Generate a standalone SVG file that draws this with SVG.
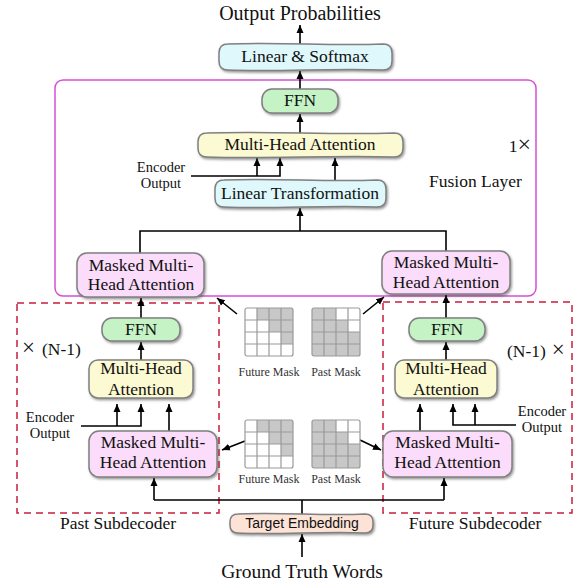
<svg xmlns="http://www.w3.org/2000/svg" xmlns:xlink="http://www.w3.org/1999/xlink" width="574" height="585" viewBox="0 0 574 585">
<defs>
<style>
text{font-family:"Liberation Serif","Times New Roman",serif;fill:#111;text-anchor:middle}
.t{font-size:17.5px}
.big{font-size:20px}
.sm{font-size:14.5px}
.mk{font-size:12px;fill:#333}
.box{stroke:#808080;stroke-width:1.5;filter:url(#sh)}
.cy{fill:#def8fc}
.ye{fill:#fcfad2}
.gr{fill:#c5f3c5}
.pk{fill:#fbdcfb}
.or{fill:#fde3d6}
.ln{fill:none;stroke:#000;stroke-width:1.6}
.ar{marker-end:url(#ah)}
.cell{fill:#c8c8c8}
.grid{fill:none;stroke:#9a9a9a;stroke-width:1.2}
</style>
<filter id="sh" x="-10%" y="-20%" width="125%" height="150%">
<feDropShadow dx="1.2" dy="1.6" stdDeviation="0.9" flood-color="#444" flood-opacity="0.55"/>
</filter>
<marker id="ah" viewBox="0 0 8 8" refX="8" refY="4" markerWidth="8" markerHeight="8" markerUnits="userSpaceOnUse" orient="auto">
<path d="M0,0.5 L8,4 L0,7.5 Z" fill="#000"/>
</marker>
<g id="fmask">
<rect x="0" y="0" width="48" height="48" fill="#fff"/>
<path class="cell" d="M12,0h36v36h-12v-12h-12v-12h-12Z"/>
<path class="grid" d="M12,0v48M24,0v48M36,0v48M0,12h48M0,24h48M0,36h48"/>
<rect class="grid" x="0" y="0" width="48" height="48" rx="2" stroke-width="1.6"/>
</g>
<g id="pmask">
<rect x="0" y="0" width="48" height="48" fill="#fff"/>
<path class="cell" d="M0,0h24v12h12v12h12v24h-48Z"/>
<path class="grid" d="M12,0v48M24,0v48M36,0v48M0,12h48M0,24h48M0,36h48"/>
<rect class="grid" x="0" y="0" width="48" height="48" rx="2" stroke-width="1.6"/>
</g>
</defs>
<rect width="574" height="585" fill="#fff"/>

<!-- frames -->
<g id="fusion-frame">
<rect x="55" y="80" width="481" height="216" rx="8" fill="none" stroke="#d64fd6" stroke-width="1.5"/>
<text class="t" x="531" y="152" style="text-anchor:end">1<tspan font-size="24">×</tspan></text>
<text class="t" x="429" y="187" style="text-anchor:start">Fusion Layer</text>
</g>
<g id="past-frame">
<rect x="17" y="303" width="202" height="210" fill="none" stroke="#c81e3c" stroke-width="1.5" stroke-dasharray="7,5"/>
<text class="t" x="22" y="355" style="text-anchor:start"><tspan font-size="23">×</tspan><tspan x="42">(N-1)</tspan></text>
<text class="t" x="118" y="529">Past Subdecoder</text>
</g>
<g id="future-frame">
<rect x="383" y="302" width="189" height="211" fill="none" stroke="#c81e3c" stroke-width="1.5" stroke-dasharray="7,5"/>
<text class="t" x="507" y="357" style="text-anchor:start">(N-1)<tspan font-size="23"> ×</tspan></text>
<text class="t" x="475" y="529">Future Subdecoder</text>
</g>

<!-- connectors -->
<g id="connectors">
<path class="ln ar" d="M300,44V25"/>
<path class="ln ar" d="M300,89V71"/>
<path class="ln ar" d="M300,133V114"/>
<path class="ln ar" d="M191,176H280V158"/>
<path class="ln ar" d="M257,176V158"/>
<path class="ln ar" d="M335,180V158"/>
<path class="ln ar" d="M300,231V208"/>
<path class="ln" d="M140,253V231H446V251"/>
<path class="ln ar" d="M141,318V298"/>
<path class="ln ar" d="M141,360V342"/>
<path class="ln ar" d="M81,426H141V404"/>
<path class="ln ar" d="M117,426V404"/>
<path class="ln ar" d="M169,431V404"/>
<path class="ln ar" d="M446,318V295"/>
<path class="ln ar" d="M446,360V342"/>
<path class="ln ar" d="M420,431V404"/>
<path class="ln ar" d="M516,425H453V404"/>
<path class="ln ar" d="M475,425V404"/>
<path class="ln" d="M154,500H444M302,514V500"/>
<path class="ln ar" d="M154,500V478"/>
<path class="ln ar" d="M444,500V478"/>
<path class="ln ar" d="M302,557V534"/>
<path class="ln ar" d="M237,314L217,298"/>
<path class="ln ar" d="M363,314L384,297"/>
<path class="ln ar" d="M245,441L222,450"/>
<path class="ln ar" d="M360,440L381,450"/>
</g>

<!-- nodes -->
<g id="output-label"><text class="big" x="300" y="20">Output Probabilities</text></g>
<g id="linear-softmax">
<path class="box cy" d="M228,44 C279.6,42 331.4,46 383,44 Q392,44 392,53 L392,61 Q392,70 383,70 C331.4,68 279.6,72 228,70 Q219,70 219,61 L219,53 Q219,44 228,44 Z"/>
<text class="t" x="305" y="62">Linear &amp; Softmax</text>
</g>
<g id="fusion-ffn">
<rect class="box gr" x="262" y="89" width="76" height="24" rx="10"/>
<text class="t" x="300" y="106">FFN</text>
</g>
<g id="fusion-mha">
<path class="box ye" d="M207,133 C269.75,131 331.25,135 394,133 Q403,133 403,142 L403,148 Q403,157 394,157 C331.25,155 269.75,159 207,157 Q198,157 198,148 L198,142 Q198,133 207,133 Z"/>
<text class="t" x="300" y="150">Multi-Head Attention</text>
</g>
<g id="fusion-encoder-output">
<text class="sm" x="161" y="172">Encoder</text>
<text class="sm" x="161" y="188">Output</text>
</g>
<g id="linear-transformation">
<path class="box cy" d="M224,180 C274.85,178 326.15,182 377,180 Q386,180 386,189 L386,198 Q386,207 377,207 C326.15,205 274.85,209 224,207 Q215,207 215,198 L215,189 Q215,180 224,180 Z"/>
<text class="t" x="300" y="199">Linear Transformation</text>
</g>
<g id="fusion-masked-left">
<rect class="box pk" x="77" y="253" width="127" height="44" rx="10"/>
<text class="t" x="141" y="271">Masked Multi-</text>
<text class="t" x="141" y="290">Head Attention</text>
</g>
<g id="fusion-masked-right">
<rect class="box pk" x="382" y="251" width="128" height="43" rx="10"/>
<text class="t" x="446" y="268">Masked Multi-</text>
<text class="t" x="446" y="288">Head Attention</text>
</g>
<g id="past-ffn">
<rect class="box gr" x="102" y="318" width="78" height="23" rx="10"/>
<text class="t" x="141" y="335">FFN</text>
</g>
<g id="past-mha">
<rect class="box ye" x="89" y="360" width="104" height="38" rx="9"/>
<text class="t" x="141" y="374">Multi-Head</text>
<text class="t" x="141" y="395">Attention</text>
</g>
<g id="past-encoder-output">
<text class="sm" x="50" y="422">Encoder</text>
<text class="sm" x="50" y="438">Output</text>
</g>
<g id="past-masked">
<rect class="box pk" x="89" y="431" width="128" height="46" rx="10"/>
<text class="t" x="153" y="448">Masked Multi-</text>
<text class="t" x="153" y="468">Head Attention</text>
</g>
<g id="future-ffn">
<rect class="box gr" x="409" y="318" width="76" height="23" rx="10"/>
<text class="t" x="447" y="335">FFN</text>
</g>
<g id="future-mha">
<rect class="box ye" x="395" y="360" width="102" height="38" rx="9"/>
<text class="t" x="446" y="374">Multi-Head</text>
<text class="t" x="446" y="395">Attention</text>
</g>
<g id="future-encoder-output">
<text class="sm" x="542" y="416">Encoder</text>
<text class="sm" x="542" y="432">Output</text>
</g>
<g id="future-masked">
<rect class="box pk" x="383" y="431" width="129" height="46" rx="10"/>
<text class="t" x="447.5" y="448">Masked Multi-</text>
<text class="t" x="447.5" y="468">Head Attention</text>
</g>
<g id="future-mask-upper">
<use xlink:href="#fmask" x="245" y="308"/>
<text class="mk" x="269" y="376">Future Mask</text>
</g>
<g id="past-mask-upper">
<use xlink:href="#pmask" x="312" y="308"/>
<text class="mk" x="336" y="376">Past Mask</text>
</g>
<g id="future-mask-lower">
<use xlink:href="#fmask" x="245" y="420"/>
<text class="mk" x="269" y="483">Future Mask</text>
</g>
<g id="past-mask-lower">
<use xlink:href="#pmask" x="312" y="420"/>
<text class="mk" x="336" y="483">Past Mask</text>
</g>
<g id="target-embedding">
<path class="box or" d="M238,514 C280,512 323,516 365,514 Q373,514 373,522 L373,525 Q373,533 365,533 C323,531 280,535 238,533 Q230,533 230,525 L230,522 Q230,514 238,514 Z"/>
<text x="302" y="528" style="font-family:'Liberation Sans',Arial,sans-serif;font-size:14px">Target Embedding</text>
</g>
<g id="ground-truth"><text x="302" y="578" style="font-size:19.5px">Ground Truth Words</text></g>
</svg>
